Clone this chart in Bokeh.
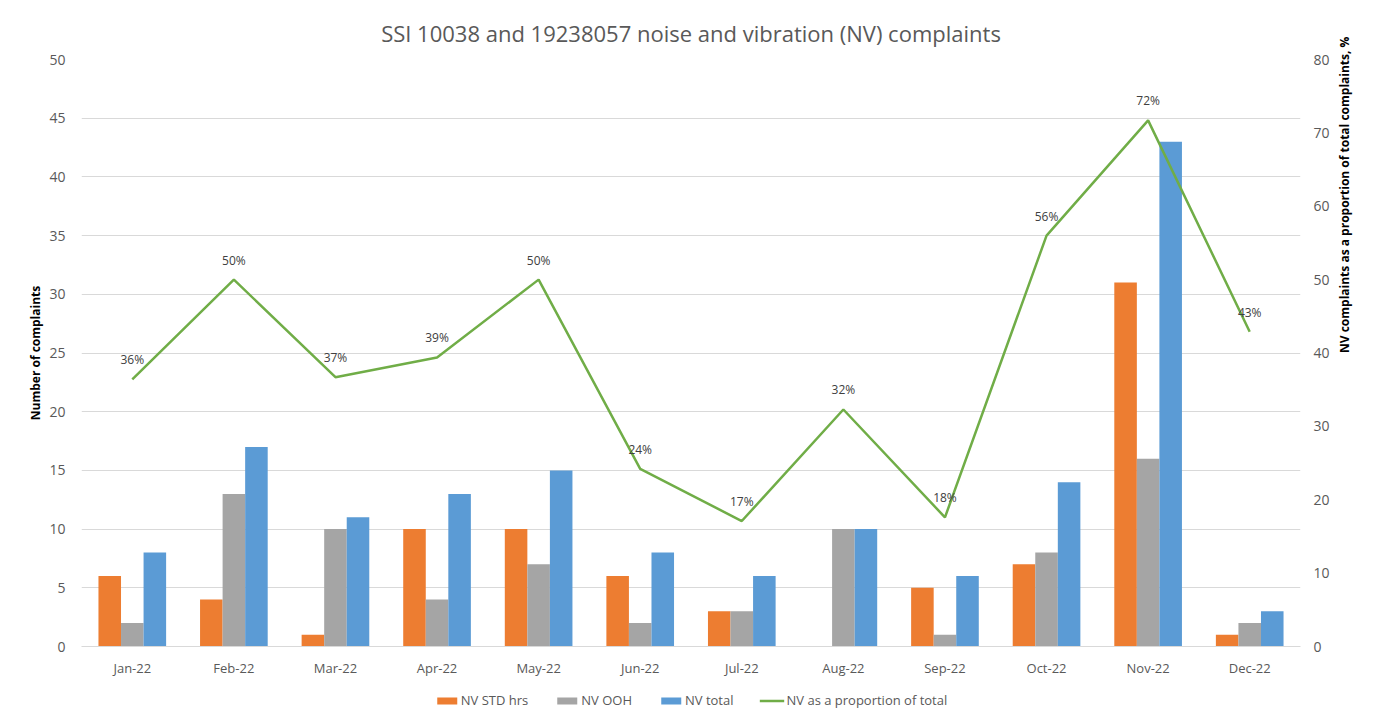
import math
from bokeh.plotting import figure
from bokeh.layouts import column
from bokeh.models import Range1d, LinearAxis, FixedTicker, Legend, LegendItem, ColumnDataSource
from bokeh.core.properties import value
from bokeh.embed import file_html
from bokeh.resources import INLINE

months = ["Jan-22", "Feb-22", "Mar-22", "Apr-22", "May-22", "Jun-22",
          "Jul-22", "Aug-22", "Sep-22", "Oct-22", "Nov-22", "Dec-22"]
nv_std = [6, 4, 1, 10, 10, 6, 3, 0, 5, 7, 31, 1]
nv_ooh = [2, 13, 10, 4, 7, 2, 3, 10, 1, 8, 16, 2]
nv_total = [8, 17, 11, 13, 15, 8, 6, 10, 6, 14, 43, 3]
nv_pct = [36.4, 50.0, 36.7, 39.4, 50.0, 24.2, 17.1, 32.3, 17.6, 56.0, 71.7, 42.9]
pct_labels = ["36%", "50%", "37%", "39%", "50%", "24%", "17%", "32%", "18%", "56%", "72%", "43%"]
series_names = ["NV STD hrs", "NV OOH", "NV total", "NV as a proportion of total"]

FONT = "Open Sans"
C_STD, C_OOH, C_TOT, C_PCT = "#ed7d31", "#a5a5a5", "#5b9bd5", "#70ad47"
xc = [i + 0.5 for i in range(len(months))]
bw = 0.222

src = ColumnDataSource(dict(
    x=xc,
    x_std=[x - bw for x in xc],
    x_ooh=xc,
    x_tot=[x + bw for x in xc],
    std=nv_std, ooh=nv_ooh, tot=nv_total, pct=nv_pct, lab=pct_labels,
))

p = figure(width=1370, height=684, output_backend="svg", toolbar_location=None,
           x_range=Range1d(0, 12), y_range=Range1d(0, 50),
           min_border_left=81, min_border_right=70, min_border_top=59, min_border_bottom=38)
p.extra_y_ranges = {"pct": Range1d(0, 80)}
p.outline_line_color = None

p.title.text = "SSI 10038 and 19238057 noise and vibration (NV) complaints"
p.title.align = "center"
p.title.text_font = FONT
p.title.text_font_size = "22px"
p.title.text_font_style = "normal"
p.title.text_color = "#595959"
p.title.standoff = 24

p.vbar(x="x_std", top="std", width=bw, source=src, fill_color=C_STD, line_color=None)
p.vbar(x="x_ooh", top="ooh", width=bw, source=src, fill_color=C_OOH, line_color=None)
p.vbar(x="x_tot", top="tot", width=bw, source=src, fill_color=C_TOT, line_color=None)
p.line(x="x", y="pct", source=src, y_range_name="pct", line_color=C_PCT, line_width=2.5)
p.text(x="x", y="pct", text="lab", source=src, y_range_name="pct",
       text_align="center", text_baseline="bottom", y_offset=-11,
       text_font=value(FONT), text_font_size="12px", text_color="#404040")

# x axis
xa = p.xaxis[0]
xa.ticker = FixedTicker(ticks=xc)
xa.major_label_overrides = {x: m for x, m in zip(xc, months)}
xa.axis_line_color = "#d9d9d9"
xa.major_tick_line_color = None
xa.minor_tick_line_color = None
xa.major_tick_out = 0
xa.minor_tick_out = 0
xa.major_label_standoff = 12
xa.major_label_text_font = FONT
xa.major_label_text_font_size = "13px"
xa.major_label_text_color = "#595959"

# left axis
ya = p.yaxis[0]
ya.ticker = FixedTicker(ticks=list(range(0, 51, 5)))
ya.axis_line_color = None
ya.major_tick_line_color = None
ya.minor_tick_line_color = None
ya.major_tick_out = 0
ya.minor_tick_out = 0
ya.major_label_standoff = 16
ya.major_label_text_font = FONT
ya.major_label_text_font_size = "14px"
ya.major_label_text_color = "#595959"
ya.axis_label = "Number of complaints"
ya.axis_label_text_font = FONT
ya.axis_label_text_font_size = "12px"
ya.axis_label_text_font_style = "bold"
ya.axis_label_text_color = "black"
ya.axis_label_standoff = 2

# right axis
ra = LinearAxis(y_range_name="pct", ticker=FixedTicker(ticks=list(range(0, 81, 10))))
ra.axis_line_color = None
ra.major_tick_line_color = None
ra.minor_tick_line_color = None
ra.major_tick_out = 0
ra.minor_tick_out = 0
ra.major_label_standoff = 13
ra.major_label_text_font = FONT
ra.major_label_text_font_size = "14px"
ra.major_label_text_color = "#595959"
ra.axis_label = "NV complaints as a proportion of total complaints, %"
ra.axis_label_text_font = FONT
ra.axis_label_text_font_size = "12px"
ra.axis_label_text_font_style = "bold"
ra.axis_label_text_color = "black"
ra.axis_label_standoff = 12
try:
    ra.axis_label_orientation = math.pi / 2
except Exception:
    pass
p.add_layout(ra, "right")

p.xgrid.grid_line_color = None
p.ygrid.grid_line_color = "#d9d9d9"
p.ygrid.grid_line_width = 1

# legend strip: a separate figure whose ranges lie far outside the data,
# so its copies of the series are not visible and serve only as legend keys
lg = figure(width=1370, height=32, output_backend="svg", toolbar_location=None,
            x_range=Range1d(5000, 5001), y_range=Range1d(5000, 5001),
            min_border_left=81, min_border_right=70, min_border_top=0, min_border_bottom=0)
lg.axis.visible = False
lg.grid.visible = False
lg.outline_line_color = None
k_std = lg.vbar(x="x_std", top="std", width=bw, source=src, fill_color=C_STD, line_color=None)
k_ooh = lg.vbar(x="x_ooh", top="ooh", width=bw, source=src, fill_color=C_OOH, line_color=None)
k_tot = lg.vbar(x="x_tot", top="tot", width=bw, source=src, fill_color=C_TOT, line_color=None)
k_pct = lg.line(x="x", y="pct", source=src, line_color=C_PCT, line_width=2.5)
legend = Legend(items=[
    LegendItem(label=series_names[0], renderers=[k_std]),
    LegendItem(label=series_names[1], renderers=[k_ooh]),
    LegendItem(label=series_names[2], renderers=[k_tot]),
    LegendItem(label=series_names[3], renderers=[k_pct]),
], orientation="horizontal", location="center", border_line_color=None,
    background_fill_alpha=0, label_text_font=FONT, label_text_font_size="13px",
    label_text_color="#595959", glyph_width=25, glyph_height=9, spacing=26,
    label_standoff=2, padding=2, margin=0)
lg.add_layout(legend, "center")

layout = column(p, lg, spacing=0)
open("out.html", "w").write(file_html(layout, INLINE))
